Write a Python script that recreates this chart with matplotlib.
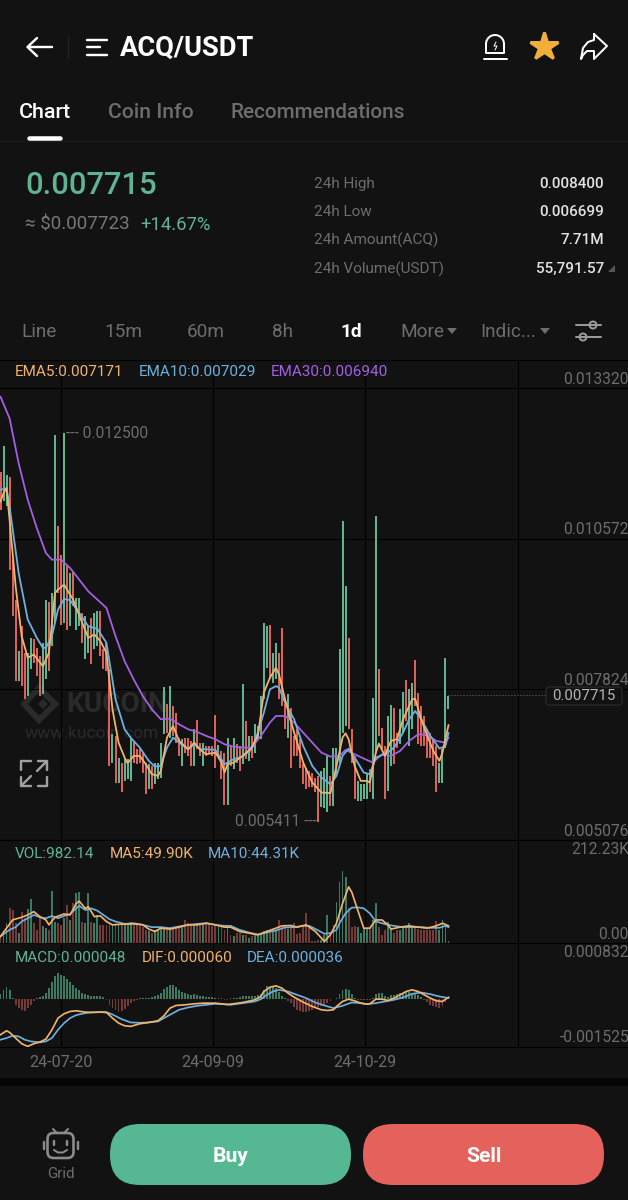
import numpy as np
import matplotlib
matplotlib.use("Agg")
import matplotlib.pyplot as plt
from matplotlib.patches import FancyBboxPatch, Polygon, Circle

# ---------- data ----------
date_ticks = ["24-07-20", "24-09-09", "24-10-29", ""]
date_tick_pos = [20, 70.2, 120.5, 171]
price_ticks = [0.013320, 0.010572, 0.007824, 0.005076]
price_tick_labels = ["0.013320", "0.010572", "0.007824", "0.005076"]

# candles, in millionths of USDT
highs_u = [11798,12265,11737,11707,10190,9462,8521,8976,8491,8491,
           8764,8734,8582,8430,8673,9462,9413,9583,12465,10796,
           10281,12500,10099,9947,9977,9492,9492,9219,9158,8976,
           9128,9219,9249,9249,8552,8673,8188,7005,6974,6580,
           6489,6550,6550,6944,6883,6732,6732,6671,6489,6459,
           6428,6489,6489,6853,7872,7551,7884,7520,7399,6944,
           6914,6944,6944,6883,7096,7266,6853,6853,6792,6792,
           6792,7350,6804,6701,6671,6944,6792,6944,6823,6792,
           7915,7247,6974,6974,7187,7156,7702,9037,8989,9007,
           8491,8673,8479,8946,7551,7733,7490,6974,7096,6914,
           6459,6398,6337,6307,6216,6246,6337,6398,6610,6246,
           6762,6762,8552,10888,9717,8764,7096,6610,6155,6095,
           6095,6277,6368,7672,10979,8188,7126,6792,7338,7533,
           7490,7035,7460,7775,7994,7836,7933,8352,7763,7520,
           7338,7096,7035,6914,6792,6489,6732,8400,7702]
lows_u = [11100,11252,11161,10008,9158,7975,7975,7884,7642,7702,
          8188,8309,8066,7702,7733,8006,8157,8612,9037,9583,
          9007,9037,8916,8976,9340,8916,8976,8673,8370,8491,
          8279,8552,8612,8430,8188,8157,6428,6489,6125,6125,
          5943,6155,6186,6155,6489,6459,6489,6307,5913,6004,
          6004,6095,6186,6216,7005,7035,6944,6974,6853,6610,
          6428,6671,6610,6428,6428,6732,6610,6428,6610,6641,
          6610,6398,6610,6186,5712,5712,6428,6368,6489,6337,
          6459,6550,6519,6580,6671,6914,6914,7642,8218,8006,
          7945,8006,7642,7520,7096,6944,6398,6610,6610,6398,
          6095,6004,6034,6034,5943,5411,5670,5652,5579,5688,
          5700,6246,6489,7035,7156,7096,6489,5822,5791,5791,
          5822,5822,5943,5822,6671,6974,6732,5822,5973,6428,
          6459,6762,6823,7035,7247,6792,7096,7520,6823,6792,
          6792,6580,6580,6428,5955,6125,6125,6762,7460]
candle_dir = ("RGGRRRGRRG" "GRRRGGRGGR" "RGRGRGGRGG" "RGGRRRRGRG" "RGGGRRRRRG"
              "RGGGGRGRRR" "GRRRGRRGRR" "RRGRRGRGRR" "GRGRGGGGGR" "GGRRRGRRRR"
              "RRRRRRGGGR" "GGGGGRRRGG" "GGRGGRRRGG" "RRGGRGGRRR" "RRRRRGGGG")

ema30_x = [0,3,6,9,12,15,17,20,23,26,29,32,35,38,41,44,47,50,53,56,59,62,65,68,71,74,77,80,83,86,89,91,94,97,100,103,106,109,112,114,117,120,123,126,129,132,135,138,141,144,147,148]
ema30_u = [13163,12768,11949,11282,10766,10311,10190,10190,10038,9826,9613,9462,9310,8794,8339,8006,7702,7460,7278,7290,7187,7096,7047,6974,6914,6823,6780,6762,6762,6974,7217,7338,7338,7217,7035,6853,6671,6598,6610,6720,6641,6562,6489,6641,6610,6701,6883,7005,6987,6883,6853,6940]
ema10_x = [0,2,3,6,9,12,14,15,17,19,21,23,26,29,32,35,38,41,43,46,49,51,53,55,57,59,62,64,66,68,71,74,75,77,80,83,85,87,89,91,92,94,97,100,103,106,109,111,113,115,117,120,122,124,126,128,130,133,135,137,139,142,145,147,148]
ema10_u = [11464,11494,11161,9947,9098,8764,8582,8582,8794,9280,9474,9450,9219,8976,8928,8673,7642,7095,6944,6762,6519,6416,6428,6762,6944,6853,6732,6823,6732,6732,6720,6459,6489,6550,6598,6732,7035,7399,7824,7884,7854,7581,7278,6792,6428,6216,6095,6246,6610,6744,6580,6307,6277,6580,6623,6671,6762,7035,7278,7430,7278,6974,6744,6792,7029]
ema5_x = [0,1,2,3,5,7,9,11,14,16,18,19,21,24,27,29,31,33,35,37,39,41,42,44,46,48,50,52,53,55,57,59,62,64,66,68,71,73,74,75,77,80,83,85,87,89,91,92,94,97,100,103,106,109,111,113,114,115,117,119,121,122,124,125,127,128,129,131,133,136,137,139,141,143,145,146,148]
ema5_u = [11252,11403,11494,10918,9704,8794,8400,8461,8248,8491,9583,9644,9735,9462,9037,8764,8825,8703,8491,7460,6853,6580,6477,6610,6610,6459,6277,6246,6337,6944,7156,6883,6732,6853,6720,6641,6671,6489,6307,6459,6489,6610,6762,6974,7763,8036,8218,8097,7642,7035,6489,6125,5943,5931,6428,6944,7023,6914,6428,6155,6155,6125,6671,6835,6610,6762,6884,6914,7278,7642,7654,7278,6974,6701,6519,6671,7171]

# volume as read on the scale where the tallest bar would be 149.8 (scaled below)
volume_read = [17.2,20.6,42.6,72.1,68.7,41.2,20.6,65.3,51.5,70,90.7,42.6,26.1,51.5,35.7,30.9,27.5,108.5,44.7,41.2,
               37.8,51.5,79,48,82.4,104.4,106.5,44.7,41.2,104.4,44.7,41.2,58.4,37.8,37.8,37.8,
               41.2,37.8,41.2,37.8,37.8,37.8,41.2,44.7,37.8,37.8,35.7,33,27.5,24,20.6,26.1,27.5,30.9,30.9,30.9,28.9,33,33,33,33,48,41.2,37.8,37.8,37.8,37.8,42.6,41.2,37.8,35.7,35.7,35.7,33,27.5,30.9,
               17.2,13.7,20.6,20.6,17.2,17.2,10.3,13.7,17.2,17.2,20.6,24,27.5,24,26.1,27.5,48,34.4,37.8,28.9,34.4,41.2,18.5,20.6,37.8,63.2,30.9,3.4,3.4,6.9,6.9,17.2,58.4,17.2,37.8,85.9,127.1,149.8,137.4,72.1,33,34.4,33,20.6,30.9,30.9,30.9,48,82.4,33,17.2,27.5,44.7,30.9,20.6,27.5,27.5,33,30.9,41.2,30.9,30.9,28.9,27.5,26.1,26.1,26.1,27.5,46.7,26.1,48,33,3.4]
vol_ma5_x = [0,2,4,7,9,11,13,15,16,18,21,23,25,26,28,29,31,33,35,37,40,44,47,49,51,53,56,59,62,65,68,71,74,76,79,82,85,88,91,93,96,98,101,104,106,107,109,111,113,115,116,118,120,122,124,126,128,129,132,135,138,141,144,146,148]
vol_ma5_read = [13.7,30.9,48,53.6,58.4,65.3,55,48,37.8,53.6,60.5,58.4,82.4,87.2,72.1,75.6,55,56.3,44.7,37.8,39.2,39.8,37.8,28.9,24,30.9,28.9,33,37.8,37.8,41.2,37.8,33,33,24,20.6,17.2,24,30.9,35.7,36.4,33,37.8,24,10.3,3.4,17.2,41.2,82.4,116.8,106.5,68.7,30.9,30.9,48,48,37.8,28.9,33,35.7,33,30.9,35.7,41.2,35.7]
vol_ma10_x = [0,3,5,7,9,11,13,15,17,19,21,23,25,26,28,30,32,34,36,38,41,44,47,50,53,56,59,62,65,68,71,74,76,79,82,85,88,91,94,97,100,102,105,107,109,111,112,114,116,118,120,122,124,126,128,130,133,136,139,142,145,147,148]
vol_ma10_read = [13.7,27.5,33,44.7,51.5,58.4,53.6,51.5,56.3,51.5,56.3,60.5,72.1,77.6,68.7,72.1,67.3,58.4,49.5,44.7,39.8,41.2,37.8,33,33,30.9,34.4,37.8,39.8,41.2,37.8,35.7,35.7,27.5,22,17.2,22,26.1,32.3,33,35.7,35.7,26.1,19.2,20.6,27.5,41.2,61.8,73.5,74.2,72.1,61.8,44.7,41.2,37.8,35.7,33,33,33,31.6,31.6,35.7,33]

# MACD histogram, millionths
macd_u = [170,297,382,276,32,-180,-286,-339,-371,-286,-180,-74,21,53,106,212,350,562,742,827,774,742,636,562,456,350,276,212,159,117,85,95,85,85,64,-21,-180,-286,-360,-413,-371,-307,-212,-127,-74,-21,21,42,42,42,64,106,138,191,318,382,445,456,403,297,244,212,170,138,170,138,85,85,64,53,53,42,42,21,-21,-42,
          21,42,42,64,85,85,106,106,106,127,170,297,435,403,403,350,244,106,21,-53,-127,-265,-339,-392,-413,-403,-392,-339,-286,-265,-212,-180,-127,-64,-5,32,159,276,329,276,170,42,-21,-42,-42,-42,-21,21,170,191,191,106,64,138,117,159,191,212,223,244,212,191,138,64,-21,-106,-180,-233,-265,-286,-212,-106,48]
dif_x = [0,2,3,5,7,9,11,13,15,17,19,21,23,25,28,31,33,35,37,39,41,43,46,49,52,54,56,58,61,64,67,71,75,76,80,84,86,87,89,91,93,95,97,100,103,106,108,110,111,113,115,117,119,121,122,124,126,128,130,132,134,136,138,140,142,144,146,148]
dif_u = [-1134,-1007,-1060,-1240,-1420,-1505,-1420,-1367,-1272,-975,-604,-466,-392,-371,-413,-424,-413,-424,-604,-763,-848,-869,-784,-742,-689,-530,-286,-201,-180,-148,-127,-127,-170,-159,-106,-21,85,244,382,424,350,191,64,-95,-233,-339,-360,-339,-233,-74,0,-53,-127,-159,-148,0,0,-42,32,138,244,297,244,138,32,-53,-74,60]
dea_x = [0,2,4,6,8,10,13,15,17,19,21,23,25,28,31,35,37,40,43,46,49,52,54,56,59,62,65,68,71,75,76,80,84,86,88,90,92,95,98,101,104,107,110,113,116,119,121,124,127,130,133,136,139,142,145,148]
dea_u = [-1293,-1240,-1166,-1187,-1293,-1346,-1378,-1346,-1240,-975,-763,-604,-509,-445,-413,-413,-488,-636,-742,-753,-742,-710,-604,-498,-339,-265,-212,-180,-148,-170,-180,-127,-74,0,138,244,297,244,138,32,-106,-201,-286,-212,-106,-127,-159,-127,-74,-21,53,170,212,159,85,36]

stats_labels = ["24h High", "24h Low", "24h Amount(ACQ)", "24h Volume(USDT)"]
stats_values = ["0.008400", "0.006699", "7.71M", "55,791.57"]

# ---------- style ----------
BG = "#121212"; GRID = "#000000"; GRAY = "#6d6d6d"
UP = "#5fb592"; DN = "#dc6159"
UP_D = "#3c7a62"; DN_D = "#763a38"
ORANGE = "#f1b36b"; BLUE = "#6db1e0"; PURPLE = "#a45fe2"
plt.rcParams['font.family'] = ['Roboto', 'DejaVu Sans']
W, H = 628, 1200
PX = 72 / 100

fig = plt.figure(figsize=(W/100, H/100), dpi=100, facecolor=BG)
def panel(top, bottom):
    ax = fig.add_axes([0, 1-bottom/H, 1, (bottom-top)/H], zorder=2)
    ax.patch.set_alpha(0)
    ax.set_xlim(-0.5/3.027, (W-0.5)/3.027)
    ax.set_xticks(date_tick_pos)
    ax.tick_params(length=0, labelbottom=False, labelleft=False)
    ax.grid(True, color=GRID, lw=1.1*PX)
    for s in ax.spines.values():
        s.set_visible(False)
    ax.spines['bottom'].set_visible(True)
    ax.spines['bottom'].set_color(GRID)
    ax.spines['bottom'].set_linewidth(1.1*PX)
    ax.set_axisbelow(True)
    return ax

idx = np.arange(len(highs_u))
cols = [UP if c == "G" else DN for c in candle_dir]
cols_d = [UP_D if c == "G" else DN_D for c in candle_dir]

# --- price panel
ax1 = panel(360, 840)
ax1.set_ylim(0.005076, 0.013320 + 28*18.32e-6)
ax1.set_yticks(price_ticks)
ax1.spines['top'].set_visible(True); ax1.spines['top'].set_color(GRID)
ax1.vlines(idx, np.array(lows_u)/1e6, np.array(highs_u)/1e6, colors=cols, lw=2.0*PX, zorder=2)
lw_line = 1.8*PX
ax1.plot(ema30_x, np.array(ema30_u)/1e6, color=PURPLE, lw=lw_line, zorder=3)
ax1.plot(ema10_x, np.array(ema10_u)/1e6, color=BLUE, lw=lw_line, zorder=4)
ax1.plot(ema5_x, np.array(ema5_u)/1e6, color=ORANGE, lw=lw_line, zorder=5)
for v, lab in zip(price_ticks, price_tick_labels):
    ax1.annotate(lab, xy=(563/W, v), xycoords=('axes fraction', 'data'), xytext=(0, 1.0),
                 textcoords='offset points', color=GRAY, fontsize=15.6*PX, va='bottom', ha='left')
ax1.annotate("--- 0.012500", xy=(21, 0.0125), xytext=(1.5, 0), textcoords='offset points',
             color=GRAY, fontsize=15.5*PX, va='center', ha='left')
ax1.annotate("0.005411 ---", xy=(105, 0.005411), xytext=(-1.0, 0), textcoords='offset points',
             color=GRAY, fontsize=15.5*PX, va='center', ha='right')
last_price = 0.007715
ax1.plot([148, 180], [last_price, last_price], color="#6a6a6a", lw=1*PX, ls=(0, (1, 2)), zorder=3)

# --- volume panel
VOL_SCALE = 212.23 / 149.8
VOL_MAX = 103 * 2.95
ax2 = panel(840, 943)
ax2.set_ylim(0, VOL_MAX)
ax2.set_yticks([])
ax2.bar(idx, np.array(volume_read)*VOL_SCALE, width=0.62, color=cols_d, zorder=2)
ax2.plot(vol_ma10_x, np.array(vol_ma10_read)*VOL_SCALE, color=BLUE, lw=1.7*PX, zorder=3)
ax2.plot(vol_ma5_x, np.array(vol_ma5_read)*VOL_SCALE, color=ORANGE, lw=1.7*PX, zorder=4)

# --- MACD panel
ax3 = panel(943, 1047)
ax3.set_ylim(-0.001525, 0.00179)
ax3.set_yticks([])
m = np.array(macd_u)/1e6
ax3.bar(idx, m, width=0.62, color=[UP_D if v >= 0 else DN_D for v in m], zorder=2)
ax3.plot(dea_x, np.array(dea_u)/1e6, color=BLUE, lw=1.7*PX, zorder=3)
ax3.plot(dif_x, np.array(dif_u)/1e6, color=ORANGE, lw=1.7*PX, zorder=4)
ax3.set_xticks(date_tick_pos, labels=date_ticks)
ax3.tick_params(labelbottom=True, labelsize=16*PX, labelcolor=GRAY, pad=5.5)

# --- UI layer in pixel coordinates
ui = fig.add_axes([0, 0, 1, 1], zorder=1)
ui.set_xlim(0, W); ui.set_ylim(H, 0); ui.axis('off')
ui2 = fig.add_axes([0, 0, 1, 1], zorder=3)
ui2.set_xlim(0, W); ui2.set_ylim(H, 0); ui2.axis('off'); ui2.patch.set_alpha(0)

def T(x, y, s, size, color, ha='left', weight='normal', ax=ui2, **kw):
    ax.text(x, y + 1.5, s, fontsize=size*PX, color=color, ha=ha, va='center', fontweight=weight, **kw)
def L(xs, ys, color='white', w=2.4, ax=ui2, **kw):
    ax.plot(xs, ys, color=color, lw=w*PX, solid_capstyle='round', solid_joinstyle='round', **kw)

# band under chart
ui.add_patch(plt.Rectangle((0, 1078), W, 8, color="#050505", lw=0))

# header
L([28, 52], [47, 47]); L([37, 27.5, 37], [38, 47, 56])
L([68, 68], [36, 58], "#262626", 1.2)
L([87, 107], [40, 40]); L([87, 100], [47, 47]); L([87, 107], [54.5, 54.5])
T(120, 46.5, "ACQ/USDT", 27.3, "white", weight='bold')
th = np.linspace(np.pi, 0, 20)
L(list(495+9*np.cos(th)), list(44+9*np.sin(-th)), w=2)
L([486, 486, 504, 504], [44, 53, 53, 44], w=2)
L([483.5, 507], [58.5, 58.5], w=2)
L([496, 494, 497, 495], [42, 46, 46, 50], w=1)
ui2.plot([544], [46], marker='*', ms=29*PX, color="#f2ae3d", mew=3*PX, mec="#f2ae3d", mfc="#f2ae3d")
L([594, 607, 594, 594, 587, 583, 581, 583, 588, 594, 594], [34, 46, 59, 51, 51, 55, 59, 48, 42, 40, 34], w=2)

T(19, 111, "Chart", 21.5, "white", weight='medium')
T(108, 111, "Coin Info", 21.2, GRAY, weight='medium')
T(231, 111, "Recommendations", 20.8, GRAY, weight='medium')
L([29, 60], [138, 138], w=4.5)
L([0, W], [141, 141], "#1d1d1d", 1)

T(25, 184, "0.007715", 31, UP, weight='medium')
T(25, 223, "≈ $0.007723", 18.8, "#777777")
T(140, 223, "+14.67%", 18.5, UP)
for y, a, b in zip([182.5, 210.5, 239, 267.5], stats_labels, stats_values):
    T(314, y, a, 15.2, GRAY)
    T(604, y, b, 15.3, "#e2e2e2", ha='right', weight='medium')
ui2.add_patch(Polygon([[608, 272], [615, 272], [615, 265]], color="#555555", lw=0))

for x, s in zip([21, 104, 187, 272], ["Line", "15m", "60m", "8h"]):
    T(x, 330.5, s, 19, GRAY)
T(340, 330.5, "1d", 19, "white", weight='bold')
T(400, 330.5, "More", 19, GRAY)
T(480, 330.5, "Indic...", 19, GRAY)
for x in (452, 545):
    ui2.add_patch(Polygon([[x-5, 328], [x+5, 328], [x, 334]], color=GRAY, lw=0))
L([576, 601], [325, 325], "#999999", 2); L([576, 601], [337, 337], "#999999", 2)
ui2.add_patch(Circle((593, 325), 3.5, fc=BG, ec="#999999", lw=2*PX))
ui2.add_patch(Circle((583, 337), 3.5, fc=BG, ec="#999999", lw=2*PX))

# legends
for x, s, c in [(15, "EMA5:0.007171", ORANGE), (139, "EMA10:0.007029", BLUE), (271, "EMA30:0.006940", PURPLE),]:
    T(x, 371, s, 15.3, c)
for x, s, c in [(15, "VOL:982.14", UP), (110, "MA5:49.90K", ORANGE), (208, "MA10:44.31K", BLUE)]:
    T(x, 852, s, 15.3, c)
for x, s, c in [(15, "MACD:0.000048", UP), (142, "DIF:0.000060", ORANGE), (247, "DEA:0.000036", BLUE)]:
    T(x, 956, s, 15.3, c)
T(571, 848, "212.23K", 15.6, GRAY)
T(598, 933, "0.00", 15.6, GRAY)
T(563, 951, "0.000832", 15.6, GRAY)
T(560, 1036, "-0.001525", 15.6, GRAY)

# last-price tag
ui2.add_patch(FancyBboxPatch((546, 687), 76, 18, boxstyle="round,pad=0,rounding_size=3", fc=BG, ec="#2f2f2f", lw=1*PX))
T(584, 695, "0.007715", 15, "#b5b5b5", ha='center')

# watermark
WM = "#2a2a2a"
ui.add_patch(Polygon([[39, 688], [55, 704], [39, 720], [24, 704]], fc="none", ec=WM, lw=6*PX))
ui.add_patch(Polygon([[43, 699], [48, 704], [43, 709], [38, 704]], fc=WM, lw=0))
T(66, 702.5, "KUCOIN", 28, WM, weight='bold', ax=ui)
T(25, 732.5, "www.kucoin.com", 17.5, WM, ax=ui)

# expand icon
E = "#a0a0a0"
L([21, 21, 31], [770, 761, 761], E); L([38, 47, 47], [761, 761, 770], E)
L([21, 21, 31], [777, 786, 786], E); L([38, 47, 47], [786, 786, 777], E)
L([22, 31], [785, 776], E); L([46, 37], [762, 771], E)

# bottom bar
for x0, c, s in [(110, "#55b892", "Buy"), (363, "#e5615b", "Sell")]:
    ui2.add_patch(FancyBboxPatch((x0, 1124), 241, 61, boxstyle="round,pad=0,rounding_size=30", fc=c, ec='none', mutation_aspect=1))
    T(x0+120.5, 1154.5, s, 21, "white", ha='center', weight='bold')
G = "#8c8c8c"
ui2.add_patch(FancyBboxPatch((47.5, 1133), 26, 25, boxstyle="round,pad=0,rounding_size=6", fc='none', ec=G, lw=2.6*PX))
L([43.5, 43.5], [1142, 1149], G, 2.4); L([78, 78], [1142, 1149], G, 2.4)
L([53, 57], [1129, 1133], G, 2); L([68, 64], [1129, 1133], G, 2)
L([54, 54], [1141, 1145], G, 2.4); L([67, 67], [1141, 1145], G, 2.4)
L([54, 58, 63, 67], [1150, 1152.5, 1152.5, 1150], G, 2)
T(61, 1172, "Grid", 15, GRAY, ha='center')

fig.savefig("out.png", dpi=100, facecolor=BG)
